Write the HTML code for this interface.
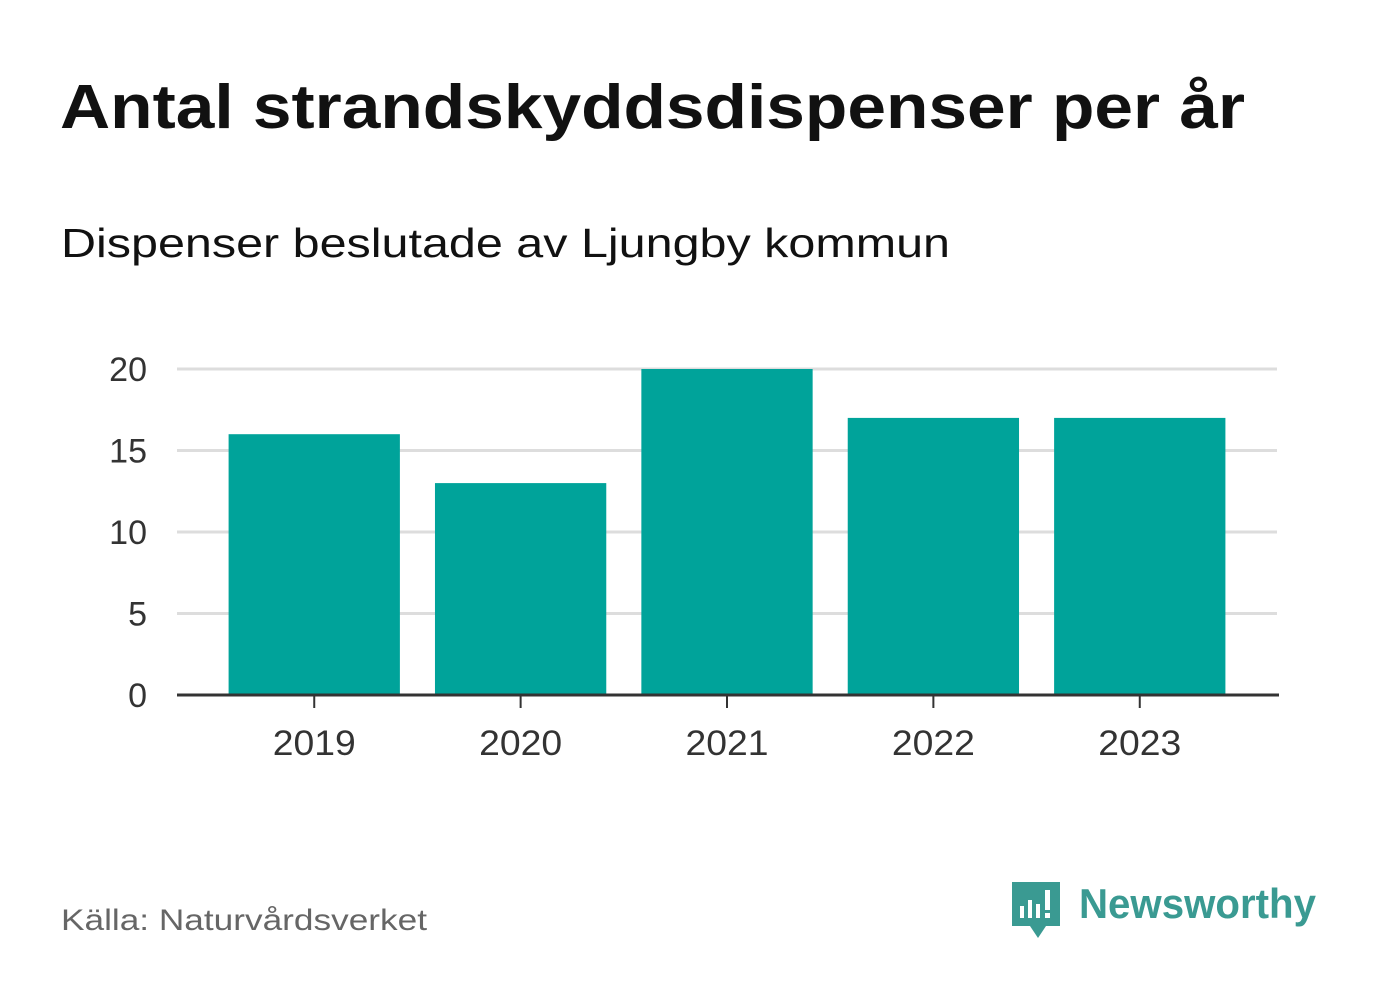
<!DOCTYPE html>
<html><head><meta charset="utf-8"><style>
body{margin:0;background:#fff;font-family:"Liberation Sans",sans-serif;}
#wrap{position:relative;width:1382px;height:999px;overflow:hidden;}
</style></head><body>
<div id="wrap">
<svg width="1382" height="999" id="svg">
<text x="60" y="128" font-size="62" font-weight="bold" fill="#111" textLength="1185" lengthAdjust="spacingAndGlyphs">Antal strandskyddsdispenser per år</text>
<text x="61" y="257" font-size="41" fill="#111" textLength="889" lengthAdjust="spacingAndGlyphs">Dispenser beslutade av Ljungby kommun</text>
<g id="plot"></g>
<text x="61" y="930" font-size="30" fill="#666" textLength="366" lengthAdjust="spacingAndGlyphs">Källa: Naturvårdsverket</text>
<g>
<path d="M1012 882 h48 v44 h-14 l-8 12 l-8 -12 h-18 z" fill="#3a9a92"/>
<rect x="1020" y="906" width="4" height="12" fill="#fff"/>
<rect x="1028" y="900" width="4" height="18" fill="#fff"/>
<rect x="1036" y="904" width="4" height="14" fill="#fff"/>
<rect x="1045" y="890" width="5" height="20" fill="#fff"/>
<rect x="1045" y="913" width="5" height="5" fill="#fff"/>
<text x="1079" y="918" font-size="42" font-weight="bold" fill="#3a9a92" textLength="237" lengthAdjust="spacingAndGlyphs">Newsworthy</text>
</g>
</svg>
</div>
<script>
const categories=["2019","2020","2021","2022","2023"];
const values=[16,13,20,17,17];
const yTicks=[0,5,10,15,20];
const NS="http://www.w3.org/2000/svg";
const plot=document.getElementById('plot');
const X0=177,X1=1277,Y0=695,Y1=369,YMAX=20;
const step=(X1-X0)/(categories.length+0.33);
const start=X0+step*0.165;
function y(v){return Y0-(v/YMAX)*(Y0-Y1);}
function xc(i){return start+step*(i+0.5);}
const bw=step*0.83;
function mk(t,a){const e=document.createElementNS(NS,t);for(const k in a)e.setAttribute(k,a[k]);plot.appendChild(e);return e;}
yTicks.forEach(t=>{
 if(t>0){const g=mk('line',{x1:X0,x2:X1,y1:y(t),y2:y(t),stroke:'#dddddd','stroke-width':3});
 
 }
 const l=mk('text',{x:147,y:y(t)+12,'text-anchor':'end','font-size':34,fill:'#333'});
 l.textContent=t;
 
 
});
categories.forEach((c,i)=>{
 const b=mk('rect',{x:xc(i)-bw/2,y:y(values[i]),width:bw,height:Y0-y(values[i]),fill:'#00a39a'});
 
 
 const tk=mk('line',{x1:xc(i),x2:xc(i),y1:Y0,y2:Y0+13,stroke:'#333','stroke-width':2});
 
 
 const l=mk('text',{x:xc(i),y:755,'text-anchor':'middle','font-size':35,fill:'#333',textLength:83,lengthAdjust:'spacingAndGlyphs'});
 l.textContent=c;
 
 
});
const ax=mk('line',{x1:X0,x2:X1+2,y1:Y0,y2:Y0,stroke:'#333','stroke-width':3});


</script>
</body></html>
